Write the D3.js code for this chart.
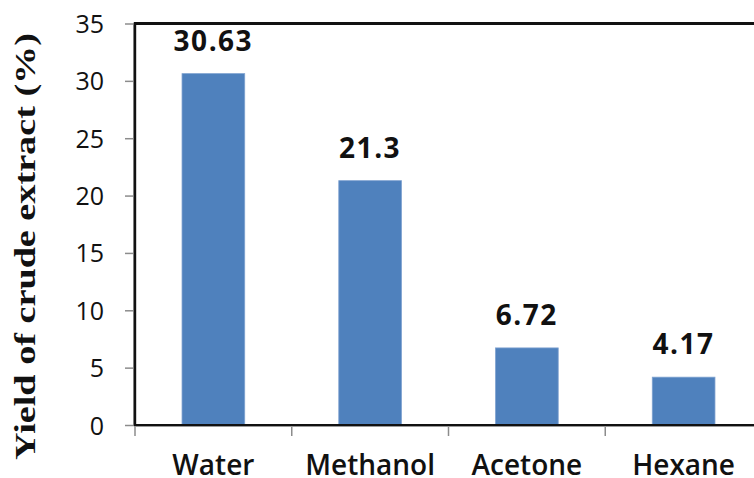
<!DOCTYPE html>
<html>
<head>
<meta charset="utf-8">
<script src="https://cdn.jsdelivr.net/npm/d3@7"></script>
<style>
  html, body { margin: 0; padding: 0; background: #fff; }
  svg { display: block; }
</style>
</head>
<body>
<svg id="chart" width="754" height="478"></svg>
<script>
// Crude extract yield by extraction solvent
const solvents = ["Water", "Methanol", "Acetone", "Hexane"];
const yields = [30.63, 21.3, 6.72, 4.17];
const valueLabels = ["30.63", "21.3", "6.72", "4.17"];
const yTicks = [0, 5, 10, 15, 20, 25, 30, 35];
const yTitle = "Yield of crude extract (%)";

const W = 754, H = 478;
const plot = { left: 135, top: 23.5, right: 762, bottom: 425 };

const svg = d3.select("#chart");

const x = d3.scaleBand()
  .domain(solvents)
  .range([plot.left, plot.right])
  .paddingInner(0.6)
  .paddingOuter(0.3);

const y = d3.scaleLinear()
  .domain([0, 35])
  .range([plot.bottom, plot.top]);

const sans = "'Open Sans', 'Noto Sans', sans-serif";

// bars
svg.append("g")
  .selectAll("rect")
  .data(solvents)
  .join("rect")
  .attr("x", d => x(d))
  .attr("y", (d, i) => y(yields[i]))
  .attr("width", x.bandwidth())
  .attr("height", (d, i) => y(0) - y(yields[i]))
  .attr("fill", "#4F81BD")
  .attr("stroke", "#7FA2D0")
  .attr("stroke-width", 0.8);

// value labels above bars
svg.append("g")
  .selectAll("text")
  .data(solvents)
  .join("text")
  .attr("x", d => x(d) + x.bandwidth() / 2)
  .attr("y", (d, i) => y(yields[i]) - 23)
  .attr("text-anchor", "middle")
  .attr("font-family", sans)
  .attr("font-weight", "bold")
  .attr("font-size", 28)
  .attr("letter-spacing", 1.5)
  .attr("fill", "#111")
  .text((d, i) => valueLabels[i]);

// y axis
const yAxis = svg.append("g")
  .attr("transform", `translate(${plot.left},0)`)
  .call(d3.axisLeft(y).tickValues(yTicks).tickSize(10).tickPadding(21));
yAxis.select(".domain").remove();
yAxis.selectAll(".tick line").attr("stroke", "#8c8c8c").attr("stroke-width", 1.5);
yAxis.selectAll(".tick text")
  .attr("font-family", sans)
  .attr("font-size", 25)
  .attr("font-weight", 500)
  .attr("fill", "#111")
  .attr("dy", "0.36em");

// x axis: ticks at category boundaries
const boundaries = solvents.map(d => x(d) - x.step() * x.paddingInner() / 2)
  .concat([plot.right]);
boundaries[0] = plot.left;
svg.append("g")
  .selectAll("line")
  .data(boundaries)
  .join("line")
  .attr("x1", d => d).attr("x2", d => d)
  .attr("y1", plot.bottom).attr("y2", plot.bottom + 11)
  .attr("stroke", "#8c8c8c")
  .attr("stroke-width", 1.5);

svg.append("g")
  .selectAll("text")
  .data(solvents)
  .join("text")
  .attr("x", d => x(d) + x.bandwidth() / 2)
  .attr("y", 475)
  .attr("text-anchor", "middle")
  .attr("font-family", sans)
  .attr("font-size", 28)
  .attr("font-weight", 600)
  .attr("fill", "#111")
  .text(d => d);

// frame lines: bottom, left, top
const frame = svg.append("g").attr("fill", "none");
frame.append("line")
  .attr("x1", plot.left - 1).attr("x2", W)
  .attr("y1", plot.bottom + 1.5).attr("y2", plot.bottom + 1.5)
  .attr("stroke", "#9a9a9a").attr("stroke-width", 1);
frame.append("line")
  .attr("x1", plot.left - 1).attr("x2", W)
  .attr("y1", plot.bottom).attr("y2", plot.bottom)
  .attr("stroke", "#111").attr("stroke-width", 2.2);
frame.append("line")
  .attr("x1", plot.left - 1.5).attr("x2", plot.left - 1.5)
  .attr("y1", plot.top).attr("y2", plot.bottom + 1)
  .attr("stroke", "#9a9a9a").attr("stroke-width", 1);
frame.append("line")
  .attr("x1", plot.left).attr("x2", plot.left)
  .attr("y1", plot.top - 1.5).attr("y2", plot.bottom + 1)
  .attr("stroke", "#111").attr("stroke-width", 2.4);
frame.append("line")
  .attr("x1", plot.left - 1).attr("x2", W)
  .attr("y1", plot.top).attr("y2", plot.top)
  .attr("stroke", "#111").attr("stroke-width", 3);

// y axis title, stretched along its baseline to span the axis
svg.append("text")
  .attr("transform", `translate(35,${246.5}) rotate(-90)`)
  .attr("text-anchor", "middle")
  .attr("font-family", "'Liberation Serif', 'Times New Roman', serif")
  .attr("font-weight", "bold")
  .attr("font-size", 30)
  .attr("textLength", 427)
  .attr("lengthAdjust", "spacingAndGlyphs")
  .attr("fill", "#111")
  .text(yTitle);
</script>
</body>
</html>
